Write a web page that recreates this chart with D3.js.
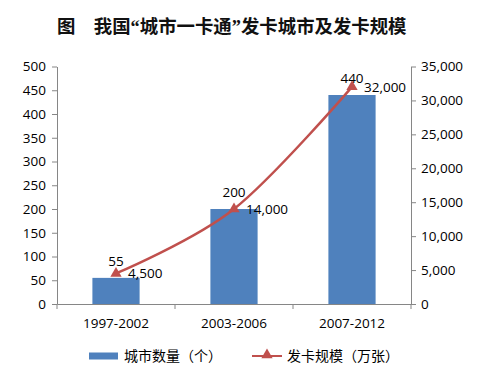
<!DOCTYPE html>
<html><head><meta charset="utf-8">
<script src="https://cdn.jsdelivr.net/npm/d3@7"></script>
<style>body{margin:0;background:#fff}svg{display:block}</style>
</head><body><svg id="c" width="481" height="382"></svg>
<script>
const titleParts = ["图　我国", "“", "城市一卡通", "”", "发卡城市及发卡规模"];
const categories = ["1997-2002", "2003-2006", "2007-2012"];
const cityCounts = [55, 200, 440];
const cardScale = [4500, 14000, 32000];
const leftTicks = [0, 50, 100, 150, 200, 250, 300, 350, 400, 450, 500];
const rightTicks = [0, 5000, 10000, 15000, 20000, 25000, 30000, 35000];
const seriesNames = ["城市数量（个）", "发卡规模（万张）"];

const svg = d3.select("#c");
const font = "'Open Sans', sans-serif";
const fs = 13.5;
const W = {l: 57, r: 411, t: 66.5, b: 304};
const x = d3.scaleBand().domain(categories).range([W.l, W.r]).paddingInner(0.6).paddingOuter(0.3);
const xc = d => x(d) + x.bandwidth() / 2;
const yL = d3.scaleLinear().domain([0, 500]).range([W.b, W.t]);
const yR = d3.scaleLinear().domain([0, 35000]).range([W.b, W.t]);
const axisColor = "#868686";

const tt = svg.append("text").attr("x", 57).attr("y", 33).attr("font-family", "'Noto Sans CJK SC', sans-serif")
  .attr("font-weight", "bold").attr("font-size", 18.4).attr("fill", "#111");
titleParts.forEach(p => {
  const s = tt.append("tspan").text(p);
  if (p === "“" || p === "”") s.attr("font-family", "'Liberation Serif', serif");
});

// bars
svg.selectAll("rect.bar").data(cityCounts).join("rect").attr("class", "bar")
  .attr("x", (d, i) => x(categories[i])).attr("width", x.bandwidth())
  .attr("y", d => yL(d)).attr("height", d => W.b - yL(d)).attr("fill", "#4F81BD");

// axes
function styleAxis(g) {
  g.selectAll("path,line").attr("stroke", axisColor);
  g.selectAll("text").attr("font-family", font).attr("font-size", fs).attr("fill", "#000");
}
svg.append("g").attr("transform", `translate(${W.l},0)`)
  .call(d3.axisLeft(yL).tickValues(leftTicks).tickSize(5).tickSizeOuter(0).tickPadding(6).tickFormat(d3.format("d")))
  .call(styleAxis);
svg.append("g").attr("transform", `translate(${W.r},0)`)
  .call(d3.axisRight(yR).tickValues(rightTicks).tickSize(5).tickSizeOuter(0).tickPadding(5).tickFormat(d3.format(",")))
  .call(styleAxis);
const xAx = svg.append("g").attr("transform", `translate(0,${W.b})`)
  .call(d3.axisBottom(x).tickSize(0).tickPadding(14));
xAx.call(styleAxis);
const bounds = d3.range(categories.length + 1).map(i => W.l + i * (W.r - W.l) / categories.length);
xAx.selectAll("line.bt").data(bounds).join("line").attr("class", "bt")
  .attr("x1", d => d).attr("x2", d => d).attr("y1", 0).attr("y2", 5).attr("stroke", axisColor);

// line
const pts = cardScale.map((v, i) => [xc(categories[i]), yR(v)]);
svg.append("path").attr("d", d3.line().curve(d3.curveCardinal.tension(0))(pts))
  .attr("fill", "none").attr("stroke", "#C0504D").attr("stroke-width", 2.5);
const tri = d3.symbol().type(d3.symbolTriangle).size(55);
svg.selectAll("path.mk").data(pts).join("path").attr("class", "mk")
  .attr("transform", d => `translate(${d[0]},${d[1]})`).attr("d", tri()).attr("fill", "#C0504D");

// labels
svg.selectAll("text.bl").data(cityCounts).join("text").attr("class", "bl")
  .attr("x", (d, i) => xc(categories[i])).attr("y", d => yL(d) - 12)
  .attr("text-anchor", "middle").attr("font-family", font).attr("font-size", fs).text(d => d);
svg.selectAll("text.ll").data(cardScale).join("text").attr("class", "ll")
  .attr("x", (d, i) => xc(categories[i]) + 12).attr("y", d => yR(d) + 5)
  .attr("font-family", font).attr("font-size", fs).text(d => d3.format(",")(d));

// legend
const lg = svg.append("g").attr("font-family", "'Noto Sans CJK SC', sans-serif").attr("font-size", 14);
lg.append("rect").attr("x", 89).attr("y", 352.5).attr("width", 29).attr("height", 7).attr("fill", "#4F81BD");
lg.append("text").attr("x", 124).attr("y", 361).text(seriesNames[0]);
lg.append("line").attr("x1", 252).attr("x2", 282).attr("y1", 356).attr("y2", 356).attr("stroke", "#C0504D").attr("stroke-width", 2);
lg.append("path").attr("transform", "translate(267,355)").attr("d", tri()).attr("fill", "#C0504D");
lg.append("text").attr("x", 287).attr("y", 361).text(seriesNames[1]);
</script></body></html>
